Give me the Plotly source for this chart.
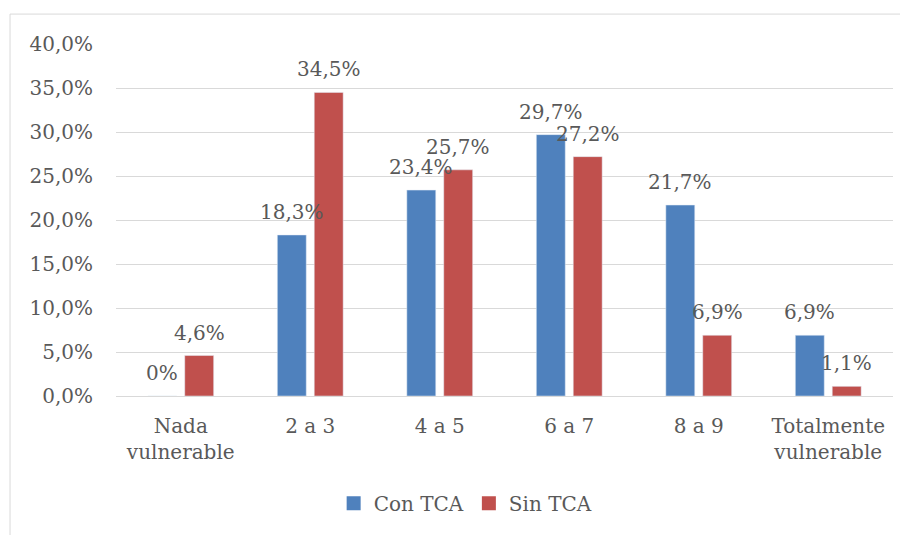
import plotly.graph_objects as go

categories = ["Nada<br>vulnerable", "2 a 3", "4 a 5", "6 a 7", "8 a 9", "Totalmente<br>vulnerable"]
con_tca = [0.0, 18.3, 23.4, 29.7, 21.7, 6.9]
sin_tca = [4.6, 34.5, 25.7, 27.2, 6.9, 1.1]
con_labels = ["0%", "18,3%", "23,4%", "29,7%", "21,7%", "6,9%"]
sin_labels = ["4,6%", "34,5%", "25,7%", "27,2%", "6,9%", "1,1%"]
y_ticks = [0, 5, 10, 15, 20, 25, 30, 35, 40]

FONT = "DejaVu Serif"
GREY = "#595959"
BLUE = "#4F81BD"
RED = "#C0504D"
FS = 20

fig = go.Figure()
fig.add_trace(go.Bar(x=categories, y=[v / 100 for v in con_tca], name="Con TCA",
                     marker=dict(color=BLUE), hoverinfo="skip", showlegend=False))
fig.add_trace(go.Bar(x=categories, y=[v / 100 for v in sin_tca], name="Sin TCA",
                     marker=dict(color=RED), hoverinfo="skip", showlegend=False))
# entradas de leyenda con cuadrados
for name, col in [("Con TCA", BLUE), ("Sin TCA", RED)]:
    fig.add_trace(go.Scatter(x=[None], y=[None], mode="markers", name=name,
                             marker=dict(symbol="square", size=14, color=col)))

# etiquetas de datos por encima de las barras
for cat, v, lab in zip(categories, con_tca, con_labels):
    fig.add_annotation(x=cat, y=v / 100, text=lab, showarrow=False, xshift=-18.5,
                       yanchor="bottom", yshift=9, font=dict(family=FONT, size=FS, color=GREY))
for cat, v, lab in zip(categories, sin_tca, sin_labels):
    fig.add_annotation(x=cat, y=v / 100, text=lab, showarrow=False, xshift=18.5,
                       yanchor="bottom", yshift=9, font=dict(family=FONT, size=FS, color=GREY))

fig.add_shape(type="rect", xref="paper", yref="paper", x0=-0.1364, x1=1.03, y0=-0.42, y1=1.085,
              line=dict(color="#D9D9D9", width=1), fillcolor="rgba(0,0,0,0)", layer="below")

fig.update_layout(
    width=900, height=527,
    margin=dict(l=108, r=15, t=36, b=139),
    paper_bgcolor="white", plot_bgcolor="white",
    separators=",.",
    barmode="group", bargap=0.43, bargroupgap=0.216,
    font=dict(family=FONT, size=FS, color=GREY),
    showlegend=True,
    legend=dict(orientation="h", x=0.45, xanchor="center", y=-0.305, yanchor="middle",
                font=dict(family=FONT, size=FS, color=GREY), itemwidth=30, traceorder="normal"),
    xaxis=dict(showgrid=False, showline=False, ticks="", ticklabelstandoff=16,
               tickfont=dict(family=FONT, size=FS, color=GREY)),
    yaxis=dict(range=[0, 0.40], tickvals=[t / 100 for t in y_ticks], tickformat=".1%",
               showgrid=True, gridcolor="#D9D9D9", gridwidth=1.3, zeroline=True,
               zerolinecolor="#D9D9D9", zerolinewidth=1.3, showline=False, ticks="",
               ticklabelstandoff=22, tickfont=dict(family=FONT, size=FS, color=GREY)),
)

fig.write_html("out.html")
